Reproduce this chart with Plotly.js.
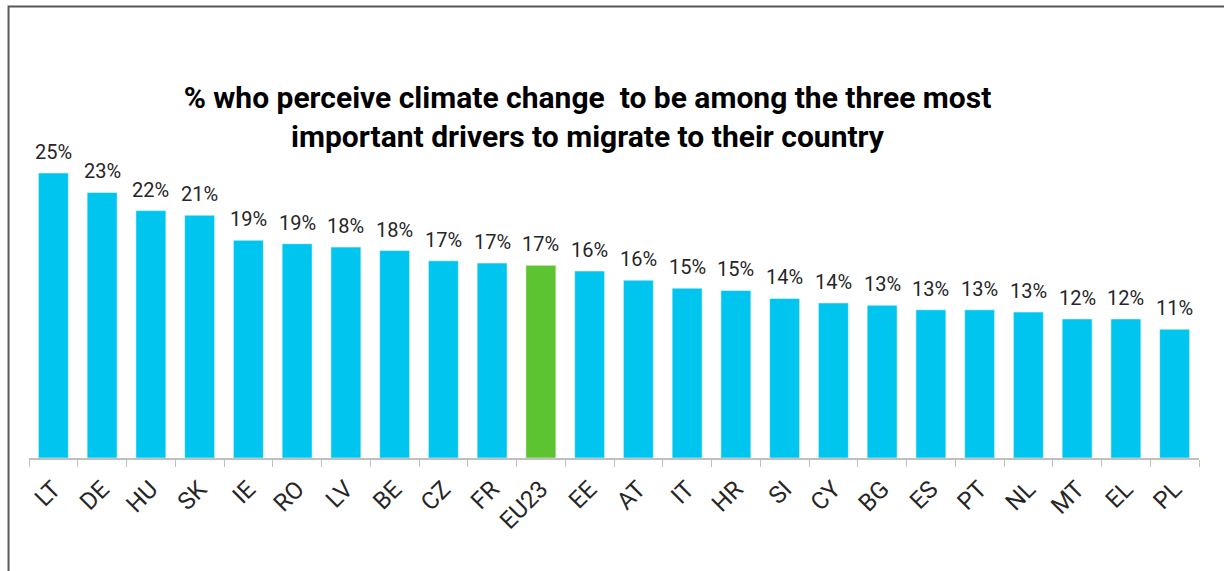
<!DOCTYPE html>
<html>
<head>
<meta charset="utf-8">
<script src="https://cdn.plot.ly/plotly-3.0.1.min.js"></script>
<style>
  html, body { margin: 0; padding: 0; background: #ffffff; }
  #chart { width: 1224px; height: 571px; }
</style>
</head>
<body>
<div id="chart"></div>
<script>
const countries = ["LT","DE","HU","SK","IE","RO","LV","BE","CZ","FR","EU23","EE","AT","IT","HR","SI","CY","BG","ES","PT","NL","MT","EL","PL"];
const values = [25.0,23.3,21.7,21.3,19.1,18.8,18.5,18.2,17.3,17.1,16.9,16.4,15.6,14.9,14.7,14.0,13.6,13.4,13.0,13.0,12.8,12.2,12.2,11.3];
const labels = ["25%","23%","22%","21%","19%","19%","18%","18%","17%","17%","17%","16%","16%","15%","15%","14%","14%","13%","13%","13%","13%","12%","12%","11%"];
const highlight = "EU23";
const titleText = "% who perceive climate change\u00A0 to be among the three most<br>important drivers to migrate to their country";

const blue = "#00C6EF";
const green = "#5CC431";
const colors = countries.map(c => c === highlight ? green : blue);

const trace = {
  type: "bar",
  x: countries,
  y: values,
  cliponaxis: false,
  marker: { color: colors, line: { color: "rgba(255,255,255,0.5)", width: 1 } },
  hoverinfo: "x+y"
};

const labelAnnotations = countries.map((c, i) => ({
  x: c,
  y: values[i],
  xref: "x",
  yref: "y",
  text: labels[i],
  showarrow: false,
  yanchor: "bottom",
  xanchor: "center",
  yshift: 7,
  font: { family: "Roboto, sans-serif", size: 20, color: "#262626" }
}));

const layout = {
  width: 1224,
  height: 571,
  margin: { l: 29, r: 25, t: 116, b: 113 },
  paper_bgcolor: "#ffffff",
  plot_bgcolor: "#ffffff",
  bargap: 0.385,
  showlegend: false,
  title: {
    text: titleText,
    font: { family: "Roboto, sans-serif", size: 30, color: "#000000", weight: 700 },
    x: 0.48,
    xanchor: "center",
    y: 0.81,
    yanchor: "middle",
    yref: "container"
  },
  xaxis: {
    type: "category",
    tickangle: -45,
    tickson: "boundaries",
    ticks: "outside",
    ticklen: 7,
    tickcolor: "#BFBFBF",
    tickwidth: 1,
    showline: true,
    linecolor: "#BFBFBF",
    linewidth: 1.5,
    showgrid: false,
    ticklabelstandoff: 6,
    tickfont: { family: "Roboto, sans-serif", size: 24, color: "#262626" }
  },
  yaxis: {
    range: [0, 30],
    visible: false,
    showgrid: false,
    zeroline: false
  },
  annotations: labelAnnotations,
  shapes: [
    {
      type: "rect",
      xref: "paper", yref: "paper",
      x0: -0.0175, x1: 1.03,
      y0: -0.36, y1: 1.3205,
      line: { color: "#595959", width: 2 },
      fillcolor: "rgba(0,0,0,0)",
      layer: "below"
    }
  ]
};

Plotly.newPlot("chart", [trace], layout, { displayModeBar: false, staticPlot: true });
</script>
</body>
</html>
